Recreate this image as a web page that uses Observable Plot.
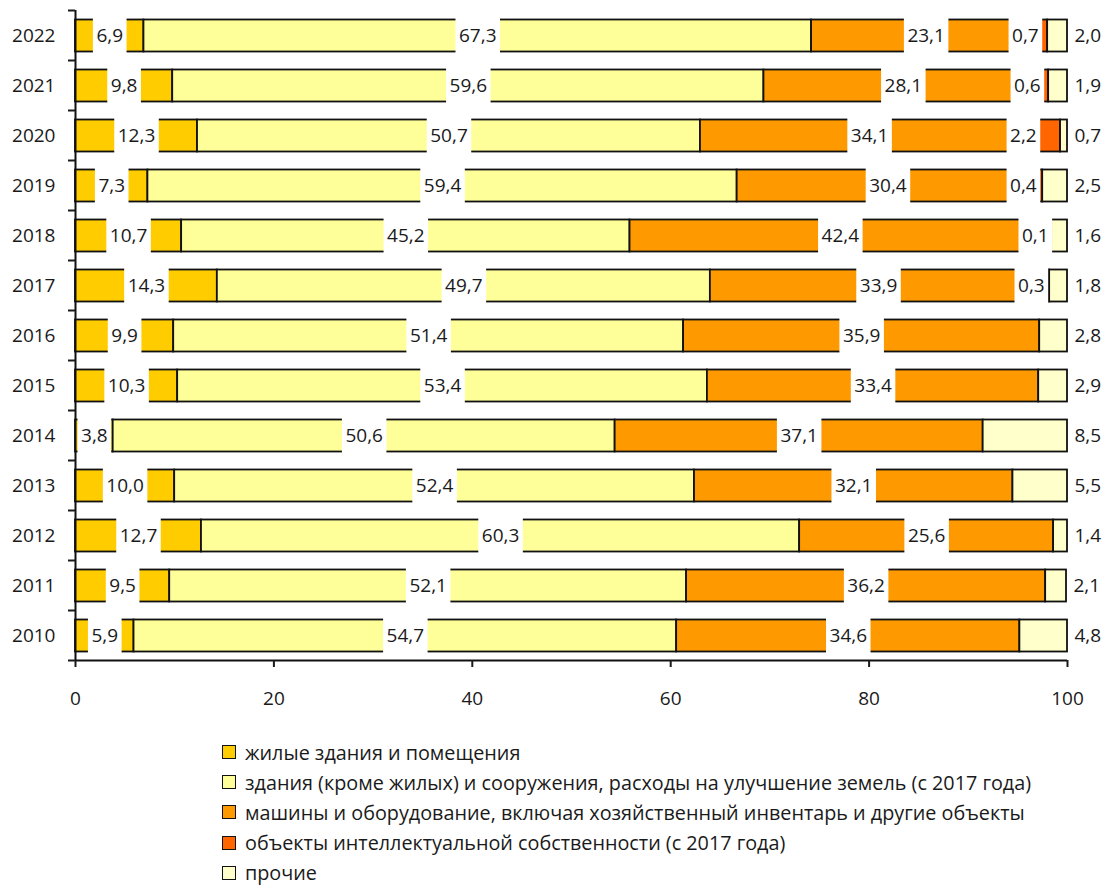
<!DOCTYPE html>
<html>
<head>
<meta charset="utf-8">
<script src="https://cdn.jsdelivr.net/npm/d3@7"></script>
<script src="https://cdn.jsdelivr.net/npm/@observablehq/plot@0.6"></script>
<style>
  html, body { margin: 0; padding: 0; background: #fff; }
  body { width: 1108px; height: 885px; font-family: "Open Sans", sans-serif; color: #1a1a1a; }
  #legend { margin-left: 222px; margin-top: 12px; font-size: 19.8px; }
  .item { display: flex; align-items: center; height: 30.2px; }
  .sw { width: 12px; height: 12px; border: 1.6px solid #111; margin-right: 9px; box-sizing: content-box; }
</style>
</head>
<body>
<div id="chart"></div>
<div id="legend"></div>
<script>
const years = ["2010","2011","2012","2013","2014","2015","2016","2017","2018","2019","2020","2021","2022"];
const categories = [
  "жилые здания и помещения",
  "здания (кроме жилых) и сооружения, расходы на улучшение земель (с 2017 года)",
  "машины и оборудование, включая хозяйственный инвентарь и другие объекты",
  "объекты интеллектуальной собственности (с 2017 года)",
  "прочие"
];
const residential    = [5.9, 9.5, 12.7, 10.0, 3.8, 10.3, 9.9, 14.3, 10.7, 7.3, 12.3, 9.8, 6.9];
const nonResidential = [54.7, 52.1, 60.3, 52.4, 50.6, 53.4, 51.4, 49.7, 45.2, 59.4, 50.7, 59.6, 67.3];
const machinery      = [34.6, 36.2, 25.6, 32.1, 37.1, 33.4, 35.9, 33.9, 42.4, 30.4, 34.1, 28.1, 23.1];
const intellectual   = [null, null, null, null, null, null, null, 0.3, 0.1, 0.4, 2.2, 0.6, 0.7];
const other          = [4.8, 2.1, 1.4, 5.5, 8.5, 2.9, 2.8, 1.8, 1.6, 2.5, 0.7, 1.9, 2.0];
const xTicks = [0, 20, 40, 60, 80, 100];
const colors = ["#FFCC00", "#FFFF99", "#FF9900", "#FF6600", "#FFFFCC"];

const series = [residential, nonResidential, machinery, intellectual, other];
const rows = [];
years.forEach((year, i) => {
  series.forEach((s, k) => {
    if (s[i] != null) rows.push({year, cat: categories[k], value: s[i]});
  });
});

const fmt = v => v.toFixed(1).replace(".", ",");
const midLabel = d => (d.cat === categories[0] || d.cat === categories[1] || d.cat === categories[2]) ? fmt(d.value) : null;
const ipLabel = d => d.cat === categories[3] ? fmt(d.value) : null;
const otherLabel = d => d.cat === categories[4] ? fmt(d.value) : null;

const FONT = "Open Sans";
const FS = 19;
const measureCtx = document.createElement("canvas").getContext("2d");
measureCtx.font = `${FS}px "${FONT}"`;

function boxRender(labelFn, anchor) {
  return function(index, scales, values, dimensions, context, next) {
    const g = next(index, scales, values, dimensions, context);
    const bg = document.createElementNS("http://www.w3.org/2000/svg", "g");
    const pad = 3.5;
    for (const i of index) {
      const t = labelFn(rows[i]);
      if (!t) continue;
      const w = measureCtx.measureText(t).width;
      const x = values.x[i], y = values.y[i];
      const left = anchor === "middle" ? x - w / 2 - pad : x - w - pad;
      const r = document.createElementNS("http://www.w3.org/2000/svg", "rect");
      r.setAttribute("x", left);
      r.setAttribute("y", y - 17.5);
      r.setAttribute("width", w + 2 * pad);
      r.setAttribute("height", 35);
      r.setAttribute("fill", "white");
      bg.appendChild(r);
    }
    g.insertBefore(bg, g.firstChild);
    return g;
  };
}

const chart = Plot.plot({
  width: 1108,
  height: 725,
  marginLeft: 75,
  marginRight: 41,
  marginTop: 10,
  marginBottom: 65,
  style: {fontFamily: FONT, fontSize: FS + "px", color: "#1a1a1a", background: "white"},
  x: {domain: [0, 100], axis: null, label: null},
  y: {domain: years.slice().reverse(), padding: 0, axis: null, label: null},
  color: {domain: categories, range: colors},
  marks: [
    Plot.barX(rows, Plot.stackX({
      x: "value", y: "year", fill: "cat", order: categories,
      insetTop: 9.5, insetBottom: 8.5, stroke: "#111", strokeWidth: 1.8
    })),
    Plot.text(rows, Plot.stackX({
      x: "value", y: "year", z: "cat", order: categories,
      text: midLabel, fill: "#1a1a1a", fontSize: FS,
      render: boxRender(midLabel, "middle")
    })),
    Plot.text(rows, Plot.stackX1({
      x: "value", y: "year", z: "cat", order: categories,
      text: ipLabel, fill: "#1a1a1a", fontSize: FS, textAnchor: "end", dx: -2,
      render: boxRender(ipLabel, "end")
    })),
    Plot.text(rows, Plot.stackX2({
      x: "value", y: "year", z: "cat", order: categories,
      text: otherLabel, fill: "#1a1a1a", fontSize: FS, textAnchor: "start", dx: 7
    })),
    Plot.ruleX([0], {stroke: "#111", strokeWidth: 2}),
    Plot.ruleY(["2010"], {stroke: "#111", strokeWidth: 2, dy: 25}),
    Plot.axisY({tickSize: 0, tickPadding: 20, fontSize: FS, label: null}),
    Plot.axisY({tickSize: 7, tickFormat: () => "", dy: -25, strokeWidth: 2, label: null}),
    Plot.axisY(["2010"], {tickSize: 7, tickFormat: () => "", dy: 25, strokeWidth: 2, label: null}),
    Plot.axisX({ticks: xTicks, tickSize: 7, tickPadding: 24, fontSize: FS, strokeWidth: 2, label: null})
  ]
});
document.getElementById("chart").appendChild(chart);

const legend = document.getElementById("legend");
categories.forEach((c, k) => {
  const item = document.createElement("div");
  item.className = "item";
  const sw = document.createElement("span");
  sw.className = "sw";
  sw.style.background = colors[k];
  const label = document.createElement("span");
  label.textContent = c;
  item.appendChild(sw);
  item.appendChild(label);
  legend.appendChild(item);
});
</script>
</body>
</html>
